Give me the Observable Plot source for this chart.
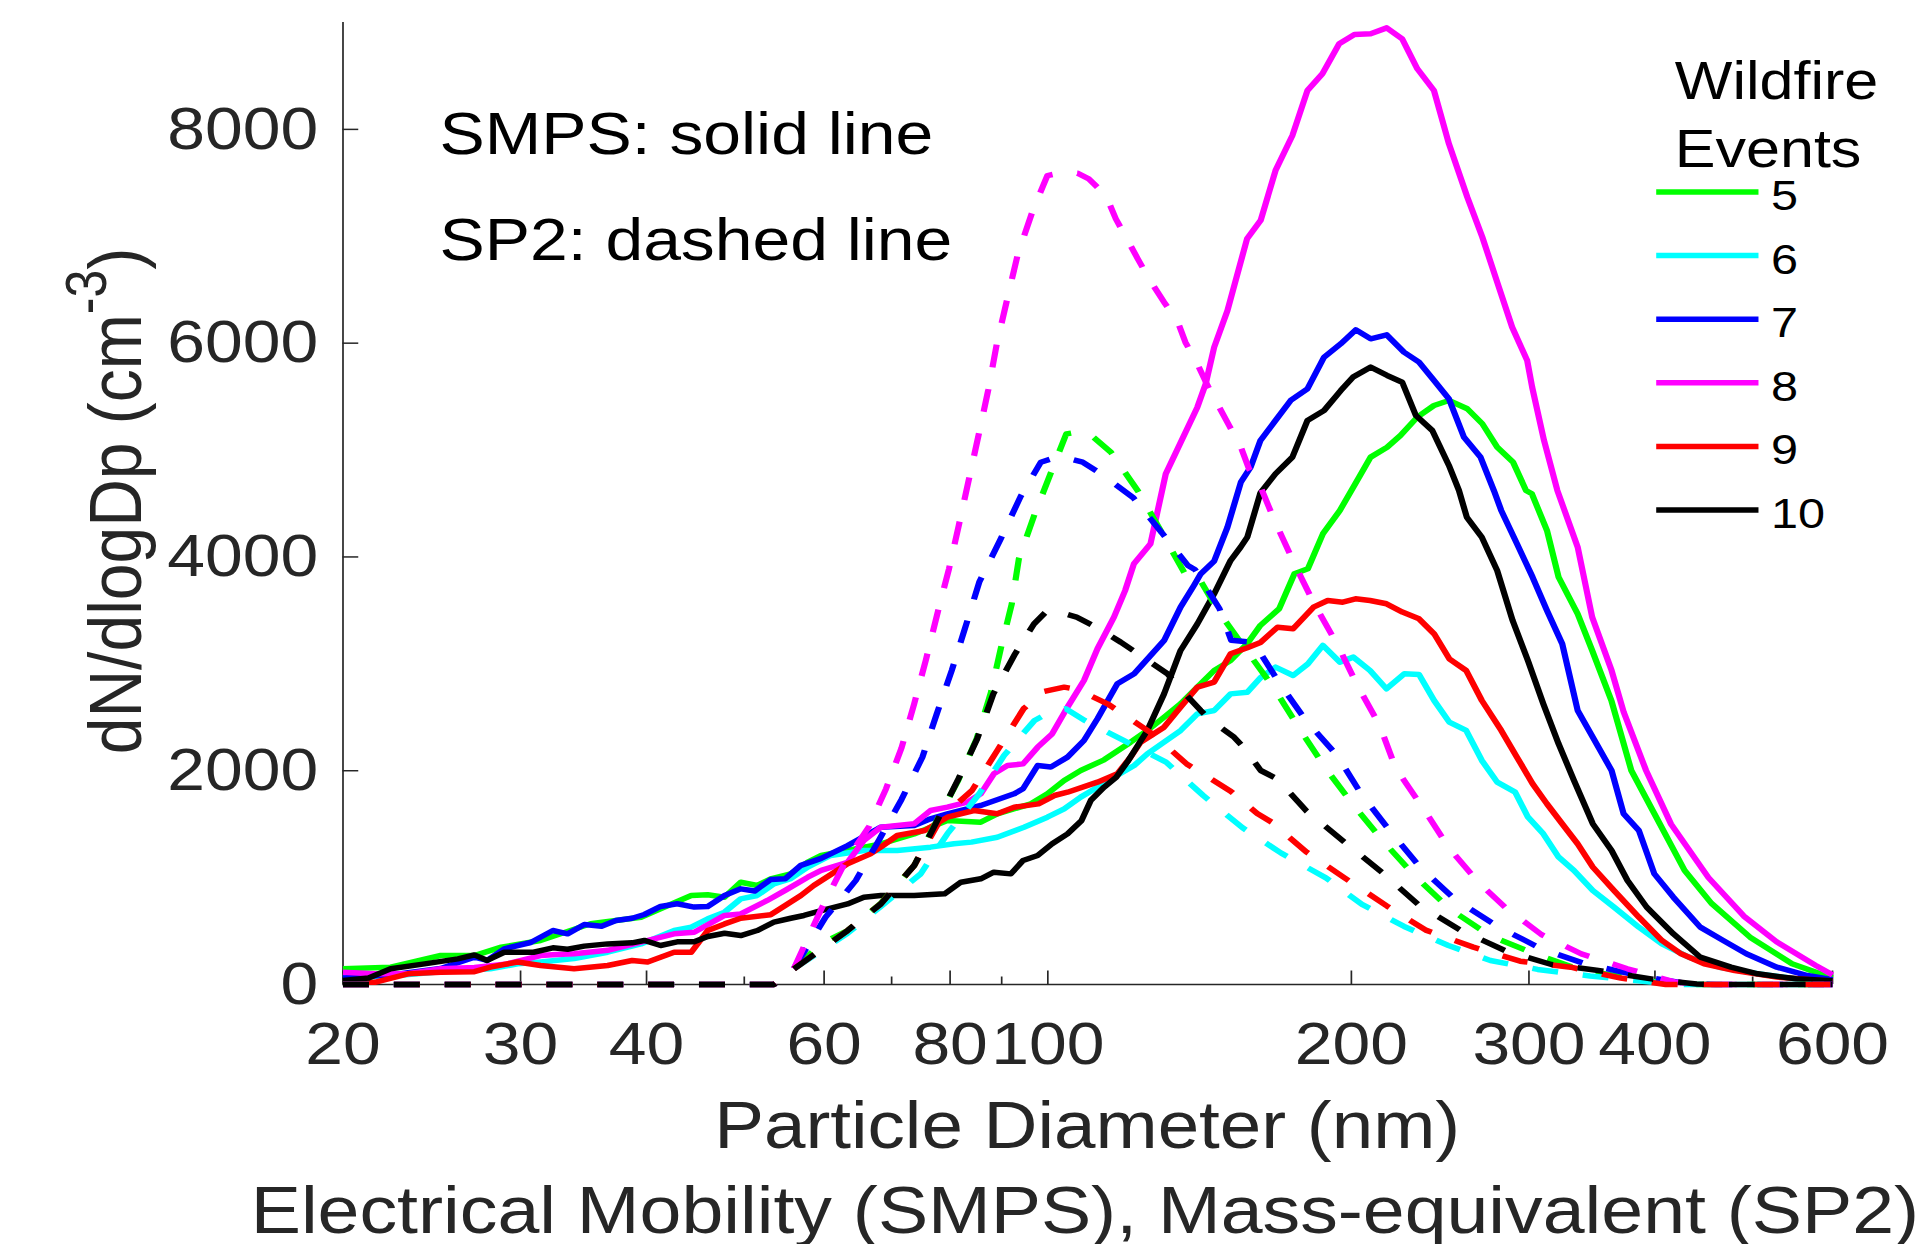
<!DOCTYPE html>
<html><head><meta charset="utf-8">
<script src="https://cdn.jsdelivr.net/npm/d3@7"></script>
<script src="https://cdn.jsdelivr.net/npm/@observablehq/plot@0.6"></script>
<style>
html,body{margin:0;padding:0;background:#fff;overflow:hidden;}
#chart svg{display:block;}
</style></head><body><div id="chart"></div>
<script>
// ---------- data ----------
const events = ["5", "6", "7", "8", "9", "10"];
const colors = ["#00ff00", "#00ffff", "#0000ff", "#ff00ff", "#ff0000", "#000000"];
const xMajor = [20, 30, 40, 60, 80, 100, 200, 300, 400, 600];
const xMinor = [50, 70, 90, 500];
const yTicks = [0, 2000, 4000, 6000, 8000];

// SMPS (solid): [diameter nm, dN/dlogDp]
const smps5 = [[20,147],[22.3,162],[25,271],[27,271],[28.7,349],[31.4,412],[35.2,568],[39.5,630],[41.3,708],[44.3,833],[46,839],[47.8,817],[49.6,957],[51.5,926],[53.1,988],[55.6,1035],[57.8,1145],[59.6,1207],[63.3,1254],[68.3,1316],[73.7,1409],[79.5,1534],[85.8,1519],[89.1,1597],[96.2,1690],[99.9,1784],[103.8,1908],[107.8,2002],[113.7,2102],[120.8,2267],[125.5,2376],[130.4,2501],[135.4,2626],[140.7,2782],[146.2,2938],[151.8,3031],[157.7,3190],[162.5,3360],[169.6,3515],[175.6,3842],[181.1,3889],[187.4,4216],[194.8,4435],[203.6,4747],[209,4934],[217,5027],[223.7,5136],[232.5,5308],[241.5,5417],[249.9,5464],[260.6,5386],[269.7,5246],[279,5027],[289.3,4887],[298,4622],[302,4591],[312.6,4248],[321,3811],[335.3,3468],[346.6,3125],[362.3,2650],[379,2002],[399.4,1600],[428,1067],[455,760],[497,443],[547,194],[600,60]];
const smps6 = [[20,60],[22.3,80],[25,120],[28,147],[29.8,193],[31.4,211],[33.9,243],[36.6,302],[39.5,380],[42.6,505],[44.3,536],[46,614],[47.8,677],[49.6,801],[51.5,833],[53.5,942],[55.6,990],[57.8,1098],[60.9,1207],[65.7,1254],[70.9,1254],[76.5,1285],[80.7,1316],[84,1332],[89.1,1378],[94.7,1472],[99.9,1565],[103.8,1643],[107.8,1753],[112,1846],[116.3,1940],[121.8,2049],[125.5,2158],[130.4,2267],[135.4,2376],[140.7,2532],[146.2,2563],[151.8,2719],[157.7,2735],[162.5,2870],[168.2,2969],[175.1,2891],[181.1,3000],[187.4,3172],[194.8,3016],[200.9,3063],[208.7,2938],[216.7,2766],[225.7,2907],[233.4,2900],[241.6,2657],[250.1,2455],[259.9,2377],[269.4,2096],[279,1893],[290.7,1800],[299.3,1566],[310,1410],[321,1192],[332.5,1067],[347.1,880],[364.3,724],[385.6,536],[406.4,381],[432,256],[463.4,162],[505.8,100],[552.1,53],[600,30]];
const smps7 = [[20,60],[22.3,90],[25,150],[27,256],[27.8,225],[28.9,334],[30.7,393],[32.3,505],[33.4,474],[34.7,561],[36.1,545],[37.3,599],[38.7,620],[39.8,655],[41.3,730],[42.9,755],[44.6,724],[46,730],[47.8,833],[49.6,895],[51.2,874],[53.1,982],[54.9,990],[56.9,1115],[59.6,1180],[63.3,1300],[68.3,1472],[73.7,1488],[76.5,1550],[79.5,1597],[85.8,1675],[92.6,1784],[94.5,1831],[97.7,2049],[100.7,2034],[104.6,2127],[108.6,2283],[112,2486],[117.2,2813],[121.8,2907],[130.4,3218],[135.4,3530],[139.6,3733],[141.8,3842],[146.2,3960],[150.7,4278],[155.4,4700],[158.9,4840],[162.5,5090],[174.1,5464],[180.9,5573],[187.9,5869],[195.2,5994],[202,6125],[209,6041],[216.8,6078],[225.5,5916],[233.4,5823],[241.5,5651],[249.9,5479],[258.6,5121],[268.6,4934],[276.9,4622],[281.6,4435],[291.9,4123],[302.5,3811],[312.6,3499],[323.7,3187],[335.3,2564],[347.1,2314],[362.3,2002],[372.4,1597],[385.6,1441],[399.4,1036],[417.2,817],[443.6,537],[467.5,412],[492.8,287],[528.4,162],[566.7,84],[600,45]];
const smps8 = [[20,115],[21.5,100],[23.2,100],[25,147],[27,160],[29.1,193],[31.4,271],[32.6,280],[33.9,287],[36.6,320],[39.5,396],[42.6,474],[44.6,489],[47.8,646],[49.6,660],[52.7,786],[54.9,880],[57.8,1004],[59.6,1067],[63.3,1144],[65.7,1347],[68.3,1472],[73.7,1503],[76.5,1628],[79.5,1659],[83.2,1706],[85.8,1784],[88.4,1971],[91.2,2049],[94.5,2064],[97.7,2220],[101,2345],[104.6,2595],[108.6,2844],[112,3141],[116.3,3437],[119.3,3685],[121.7,3935],[126.4,4122],[130.9,4777],[140.7,5401],[143.4,5619],[146.2,5962],[150.7,6305],[157.6,6976],[162.6,7150],[168.2,7616],[174.8,7943],[180.9,8364],[187.2,8520],[194.5,8801],[201.4,8888],[209,8894],[216.8,8950],[224.6,8847],[232.5,8567],[241.5,8364],[249.9,7865],[260.6,7366],[269.7,6992],[280.1,6524],[288.7,6150],[298.8,5838],[302.2,5589],[310.5,5090],[320.1,4622],[335.3,4092],[346.6,3437],[362.3,2938],[372.4,2550],[392,2002],[415,1500],[452,1000],[490,640],[528,400],[577,180],[600,90]];
const smps9 = [[20,22],[21.5,20],[23.2,100],[25,115],[27,120],[28,162],[29.8,211],[31.4,178],[33.9,147],[36.6,178],[38.7,225],[40.1,210],[42.6,302],[44.3,302],[46,505],[47.8,567],[49.6,620],[53.1,652],[54.9,739],[56.9,833],[58.6,926],[63.3,1129],[66.7,1222],[68.3,1285],[70.9,1394],[75.5,1441],[79.5,1565],[84.5,1628],[89.1,1597],[92.6,1659],[97.9,1690],[101.5,1768],[104.6,1799],[112,1893],[117.2,1971],[120.8,2127],[123.6,2267],[130.4,2407],[135.4,2595],[140.7,2782],[146.2,2829],[151.8,3094],[157.7,3150],[162.5,3200],[169,3343],[175.1,3328],[183.4,3530],[189.5,3593],[196.1,3577],[201.9,3608],[208.7,3593],[216.7,3562],[224.7,3484],[233.4,3421],[241.6,3281],[250.1,3047],[259.9,2938],[269.4,2657],[281.6,2377],[291.9,2127],[302.5,1878],[312.6,1690],[323.7,1503],[335.3,1316],[347.1,1098],[364.3,880],[385.6,630],[406.4,412],[424.6,287],[447.5,194],[480,131],[528.4,69],[600,30]];
const smps10 = [[20,37],[21.2,60],[22.3,147],[24.1,193],[26,240],[27,277],[27.8,225],[28.9,302],[30.9,302],[32.3,343],[33.4,330],[34.7,359],[36.6,380],[38.7,390],[39.8,412],[41.3,365],[42.9,399],[44.6,400],[46,449],[47.8,480],[49.6,458],[51.5,505],[53.5,583],[55.6,620],[57.3,646],[59.6,690],[63.3,754],[65.7,817],[68.3,832],[73.7,832],[79,848],[82,957],[85.8,989],[88.4,1051],[91.9,1035],[94.5,1160],[97.7,1207],[101,1316],[104.6,1409],[108,1534],[110.3,1722],[113.7,1846],[116.9,1940],[120.2,2096],[125.5,2376],[130.4,2719],[135.4,3125],[140.7,3374],[146.2,3655],[151.8,3967],[155.3,4092],[157.7,4185],[162.5,4600],[168.2,4778],[174.8,4934],[180.9,5277],[187.9,5370],[195.2,5557],[200.7,5682],[209,5776],[217,5698],[224.6,5635],[231.7,5324],[240.6,5183],[249.9,4856],[255.7,4622],[260.3,4372],[269.4,4185],[279,3873],[289,3406],[299.3,3031],[310,2626],[321,2252],[332.5,1909],[347.1,1503],[362.3,1254],[375.7,973],[392.5,724],[417.2,474],[443.6,256],[475.9,162],[505.8,100],[552.1,53],[600,35]];

// SP2 (dashed): [mass-equivalent diameter nm, dN/dlogDp]
const sp2_5 = [[20,0],[53.5,0],[56,150],[59.6,380],[63.3,505],[68.3,760],[73.7,1113],[77.1,1480],[81.4,1900],[85,2300],[87.8,2729],[89.8,3140],[92.1,3561],[93.6,3982],[97,4396],[100.9,4808],[104.3,5151],[108.3,5176],[111,5120],[115.5,4980],[122.9,4615],[129.5,4241],[136.6,3851],[140,3860],[148,3477],[157.5,3122],[167.8,2766],[177.2,2408],[188.7,2018],[200.5,1690],[214.7,1348],[231.2,1014],[250.3,708],[274.2,459],[305.1,281],[335,147],[380,53],[420,0],[600,0]];
const sp2_6 = [[20,0],[53.5,0],[56,146],[63.3,480],[68.3,730],[74.8,1035],[79.5,1410],[85.5,1784],[90.5,2143],[97,2470],[101,2560],[104.2,2579],[108.8,2470],[118.9,2283],[131,2080],[142.6,1768],[156,1466],[170.4,1229],[188.7,998],[204.9,749],[225.6,543],[249.6,365],[274.7,225],[306,141],[345,80],[389,30],[420,0],[600,0]];
const sp2_7 = [[20,0],[53.5,0],[56,150],[60.2,630],[64.5,973],[68,1350],[71.6,1731],[75.1,2127],[77.6,2532],[80.3,2938],[82.9,3353],[85.5,3764],[89.8,4169],[94,4568],[98.4,4886],[102,4933],[105,4920],[108.3,4886],[113.6,4761],[121.6,4552],[130,4216],[137.7,3920],[140,3880],[148,3515],[152,3220],[160,3200],[169.6,2823],[180.3,2470],[193.6,2143],[204.7,1778],[218.5,1435],[233.9,1098],[253.5,795],[279,546],[308.6,334],[341.2,193],[389,75],[430,10],[460,0],[600,0]];
const sp2_8 = [[20,0],[53.5,0],[56,150],[59.5,690],[63,1150],[66.5,1480],[69.1,1830],[71.6,2214],[73.7,2626],[75.7,3038],[77.7,3468],[79.8,3889],[81.6,4294],[83.5,4724],[85.4,5145],[87.3,5566],[89,5993],[91.2,6424],[93.4,6836],[96.7,7250],[99.9,7568],[104,7600],[107,7590],[109.8,7537],[114.2,7381],[116.8,7163],[119.8,6976],[122.8,6789],[126,6602],[130.4,6383],[134.4,6212],[136.9,6009],[140.7,5806],[144,5604],[147.3,5432],[151.3,5229],[155.4,5027],[158.3,4824],[162.6,4652],[167.8,4341],[175.6,3936],[183.7,3562],[193.9,3172],[203,2788],[213.4,2423],[221.2,2027],[235.8,1644],[249.6,1285],[267.1,958],[284,724],[308.6,468],[338.1,287],[375.7,147],[420,20],[450,0],[600,0]];
const sp2_9 = [[20,0],[53.5,0],[56,146],[63.3,505],[68.3,754],[73.7,1113],[78.5,1565],[84.1,1815],[89.1,2189],[94.6,2579],[99,2740],[103.8,2782],[107,2760],[114.6,2626],[127,2345],[137.3,2064],[151.8,1809],[161.3,1600],[166.7,1519],[180.6,1238],[196.9,998],[217,733],[237.4,506],[264.2,350],[294,218],[330,162],[370,60],[410,0],[600,0]];
const sp2_10 = [[20,0],[53.5,0],[56,146],[63.3,505],[68.3,754],[73.7,1113],[77.1,1472],[81.4,1909],[85.1,2298],[88.3,2719],[92.8,3094],[96.9,3374],[99.9,3499],[103,3480],[106.8,3437],[111.6,3343],[118.1,3203],[123.6,3078],[131.4,2907],[135.4,2766],[141.8,2563],[145.1,2470],[153,2314],[157,2200],[162.6,2002],[168.8,1924],[180.6,1621],[196.9,1332],[214.7,1045],[233,749],[256.8,506],[284,318],[315.8,187],[350,134],[398,50],[440,5],[460,0],[600,0]];

const smpsSeries = [smps5, smps6, smps7, smps8, smps9, smps10];
const sp2Series = [sp2_5, sp2_6, sp2_7, sp2_8, sp2_9, sp2_10];

// ---------- build rows ----------
const toRows = (series) => series.flatMap((s, i) => s.map(([d, v]) => ({event: events[i], d, v})));
const smpsRows = toRows(smpsSeries);
const sp2Rows = toRows(sp2Series);

// ---------- plot ----------
const FONT = "'Liberation Sans', Arial, Helvetica, sans-serif";
const INK = "#262626";
const W = 1706, H = 1244, OUTW = 1928;
const LW = 5.5;

const plot = Plot.plot({
  width: W, height: H,
  marginLeft: 303, marginRight: 85, marginTop: 22, marginBottom: 260,
  style: {fontFamily: FONT, color: INK, background: "#ffffff", overflow: "visible"},
  x: {type: "log", domain: [20, 600]},
  y: {domain: [0, 9000]},
  color: {domain: events, range: colors},
  marks: [
    Plot.ruleX([20], {stroke: INK, strokeWidth: 1.5}),
    Plot.ruleY([0], {stroke: INK, strokeWidth: 1.5}),
    Plot.axisY({ticks: yTicks, tickSize: -14, tickFormat: () => "", label: null, stroke: INK, strokeWidth: 1.5}),
    Plot.axisY({ticks: yTicks, tickSize: 0, tickPadding: 22, fontSize: 60, label: null, tickFormat: (d) => String(d), fill: INK}),
    Plot.axisX({ticks: xMajor, tickSize: -13.5, tickFormat: () => "", label: null, stroke: INK, strokeWidth: 1.5}),
    Plot.axisX({ticks: xMinor, tickSize: -7.5, tickFormat: () => "", label: null, stroke: INK, strokeWidth: 1.5}),
    Plot.text(xMajor, {x: (d) => d, text: (d) => String(d), frameAnchor: "bottom", lineAnchor: "top", dy: 37, fontSize: 60, fill: INK}),
    Plot.line(smpsRows, {x: "d", y: "v", z: "event", stroke: "event", strokeWidth: LW, strokeLinejoin: "round", strokeLinecap: "butt"}),
    Plot.line(sp2Rows, {x: "d", y: "v", z: "event", stroke: "event", strokeWidth: LW, strokeDasharray: "23,22", strokeLinejoin: "round", strokeLinecap: "butt"})
  ]
});

const svg = d3.select(plot);
svg.attr("width", OUTW).attr("height", H).attr("preserveAspectRatio", "none")
  .style("width", OUTW + "px").style("height", H + "px").style("max-width", "none");

const g = svg.append("g").attr("font-family", FONT).attr("text-anchor", "start");

// annotations
g.append("text").attr("x", 389).attr("y", 154).attr("font-size", 60).attr("fill", "#000").attr("text-anchor", "start").text("SMPS: solid line");
g.append("text").attr("x", 389).attr("y", 260).attr("font-size", 60).attr("fill", "#000").attr("text-anchor", "start").text("SP2: dashed line");

// y label
const yl = g.append("text").attr("transform", "translate(124.5,501) rotate(-90)")
  .attr("text-anchor", "middle").attr("font-size", 66).attr("fill", INK);
yl.append("tspan").text("dN/dlogDp (cm");
yl.append("tspan").attr("dy", -31).attr("font-size", 50).text("-3");
yl.append("tspan").attr("dy", 31).text(")");

// x labels
g.append("text").attr("x", 962).attr("y", 1148).attr("text-anchor", "middle").attr("font-size", 66).attr("fill", INK)
  .text("Particle Diameter (nm)");
g.append("text").attr("x", 960).attr("y", 1233).attr("text-anchor", "middle").attr("font-size", 66.6).attr("fill", INK)
  .text("Electrical Mobility (SMPS), Mass-equivalent (SP2)");

// legend
g.append("text").attr("x", 1482).attr("y", 99).attr("font-size", 54).attr("fill", "#000").attr("text-anchor", "start").text("Wildfire");
g.append("text").attr("x", 1482).attr("y", 167).attr("font-size", 54).attr("fill", "#000").attr("text-anchor", "start").text("Events");
events.forEach((e, i) => {
  const y = 192 + i * 63.6;
  g.append("line").attr("x1", 1465.5).attr("x2", 1556).attr("y1", y).attr("y2", y)
    .attr("stroke", colors[i]).attr("stroke-width", LW);
  g.append("text").attr("x", 1567).attr("y", y + 18).attr("font-size", 43).attr("fill", "#000").attr("text-anchor", "start").text(e);
});

document.getElementById("chart").appendChild(plot);
</script>
</body></html>
